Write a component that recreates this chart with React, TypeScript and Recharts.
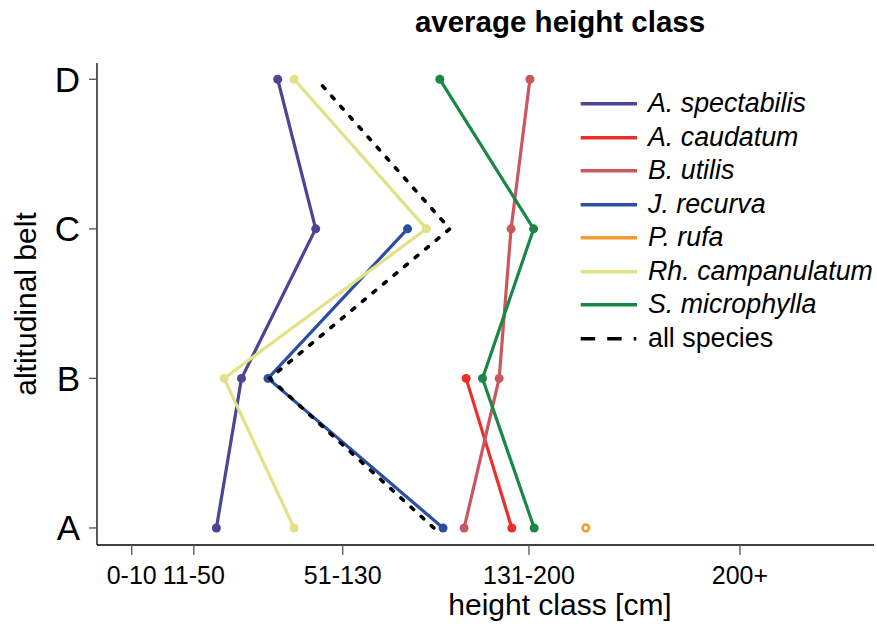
import { ScatterChart, Scatter, XAxis, YAxis, Legend } from "recharts";

const FONT = '"Liberation Sans", Arial, Helvetica, sans-serif';

// altitudinal belts (bottom to top)
const belts = ["A", "B", "C", "D"];

// height class axis
const xTicks = [5, 30, 90, 165, 250];
const xTickLabels = ["0-10", "11-50", "51-130", "131-200", "200+"];

// average height class per belt (A, B, C, D), null = not present
const spectabilis = [39.1, 49.2, 79.1, 63.8];
const caudatum = [158.1, 139.7, null, null];
const utilis = [138.9, 153, 157.8, 165.4];
const recurva = [130.4, 59.9, 116.1, null];
const rufa = [187.9, null, null, null];
const campanulatum = [70.4, 42.2, 123.7, 70.4];
const microphylla = [167.1, 146.3, 166.9, 129.1];
const allSpecies = [126.7, 60.6, 133.1, 79.5];

const speciesNames = [
  "A. spectabilis",
  "A. caudatum",
  "B. utilis",
  "J. recurva",
  "P. rufa",
  "Rh. campanulatum",
  "S. microphylla",
];
const speciesColors = ["#4a4594", "#ec2f2b", "#c9575d", "#2a4ea2", "#f59b31", "#e2e187", "#1b8744"];
const speciesValues = [spectabilis, caudatum, utilis, recurva, rufa, campanulatum, microphylla];

function toPoints(values: (number | null)[]) {
  const pts: { x: number; y: number }[] = [];
  values.forEach((v, i) => {
    if (v !== null) pts.push({ x: v, y: i + 1 });
  });
  return pts;
}

const dot = (color: string, hollow: boolean) => (props: any) =>
  hollow ? (
    <circle cx={props.cx} cy={props.cy} r={3.3} fill="#fff" stroke={color} strokeWidth={2.6} />
  ) : (
    <circle cx={props.cx} cy={props.cy} r={4.5} fill={color} />
  );

function LegendBox() {
  const rows = [...speciesNames, "all species"];
  return (
    <div style={{ fontFamily: FONT, fontSize: 26.8, color: "#000" }}>
      {rows.map((name, i) => {
        const isAll = i === speciesNames.length;
        return (
          <div key={name} style={{ display: "flex", alignItems: "center", height: 33.5, lineHeight: "33.5px" }}>
            <svg width={68} height={33.5} style={{ flex: "none" }}>
              <line
                x1={0.7}
                x2={isAll ? 56.3 : 57}
                y1={16.75}
                y2={16.75}
                stroke={isAll ? "#000" : speciesColors[i]}
                strokeWidth={3.4}
                strokeDasharray={isAll ? "14.5 12" : undefined}
              />
            </svg>
            <span style={{ fontStyle: isAll ? "normal" : "italic", whiteSpace: "nowrap" }}>{name}</span>
          </div>
        );
      })}
    </div>
  );
}

export default function App() {
  return (
    <div style={{ position: "absolute", left: 0, top: 0, width: 877, height: 628, fontFamily: FONT }}>
      <ScatterChart width={877} height={628} margin={{ top: 63, right: 3, bottom: 33, left: 27 }}>
        <XAxis
          type="number"
          dataKey="x"
          domain={[-9, 304]}
          ticks={xTicks}
          interval={0}
          allowDataOverflow
          tickFormatter={(v: number) => xTickLabels[xTicks.indexOf(v)] ?? ""}
          height={50}
          tickSize={10}
          tickMargin={11}
          axisLine={{ stroke: "#000", strokeWidth: 1.3 }}
          tickLine={{ stroke: "#555", strokeWidth: 1.3 }}
          tick={{ fontSize: 25, fill: "#000", fontFamily: FONT }}
        />
        <YAxis
          type="number"
          dataKey="y"
          domain={[0.886, 4.109]}
          ticks={[1, 2, 3, 4]}
          interval={0}
          allowDataOverflow
          tickFormatter={(v: number) => belts[v - 1] ?? ""}
          width={70}
          tickSize={8}
          tickMargin={9}
          axisLine={{ stroke: "#000", strokeWidth: 1.3 }}
          tickLine={{ stroke: "#555", strokeWidth: 1.3 }}
          tick={{ fontSize: 35, fill: "#000", fontFamily: FONT }}
        />
        {speciesNames.map((name, i) => {
          const pts = toPoints(speciesValues[i]);
          return (
            <Scatter
              key={name}
              name={name}
              data={pts}
              fill={speciesColors[i]}
              line={pts.length > 1 ? { stroke: speciesColors[i], strokeWidth: 3.2 } : false}
              lineType="joint"
              shape={dot(speciesColors[i], pts.length === 1)}
              isAnimationActive={false}
            />
          );
        })}
        <Scatter
          name="all species"
          data={toPoints(allSpecies)}
          fill="#000"
          line={{ stroke: "#000", strokeWidth: 3.6, strokeDasharray: "3.5 10.2", strokeLinecap: "round" }}
          lineType="joint"
          shape={() => <g />}
          isAnimationActive={false}
        />
        <Legend
          layout="vertical"
          align="center"
          verticalAlign="middle"
          content={() => <LegendBox />}
          wrapperStyle={{ left: 580, top: 87, width: 297, height: 270 }}
        />
      </ScatterChart>
      <div
        style={{
          position: "absolute",
          left: 560,
          top: 6.7,
          transform: "translateX(-50%)",
          fontSize: 29.5,
          lineHeight: "29.5px",
          fontWeight: "bold",
          whiteSpace: "nowrap",
        }}
      >
        average height class
      </div>
      <div
        style={{
          position: "absolute",
          left: 560,
          top: 589.6,
          transform: "translateX(-50%)",
          fontSize: 30,
          lineHeight: "30px",
          whiteSpace: "nowrap",
        }}
      >
        height class [cm]
      </div>
      <div
        style={{
          position: "absolute",
          left: -123.7,
          top: 289,
          width: 300,
          height: 30,
          fontSize: 30,
          lineHeight: "30px",
          textAlign: "center",
          whiteSpace: "nowrap",
          transform: "rotate(-90deg)",
        }}
      >
        altitudinal belt
      </div>
    </div>
  );
}
